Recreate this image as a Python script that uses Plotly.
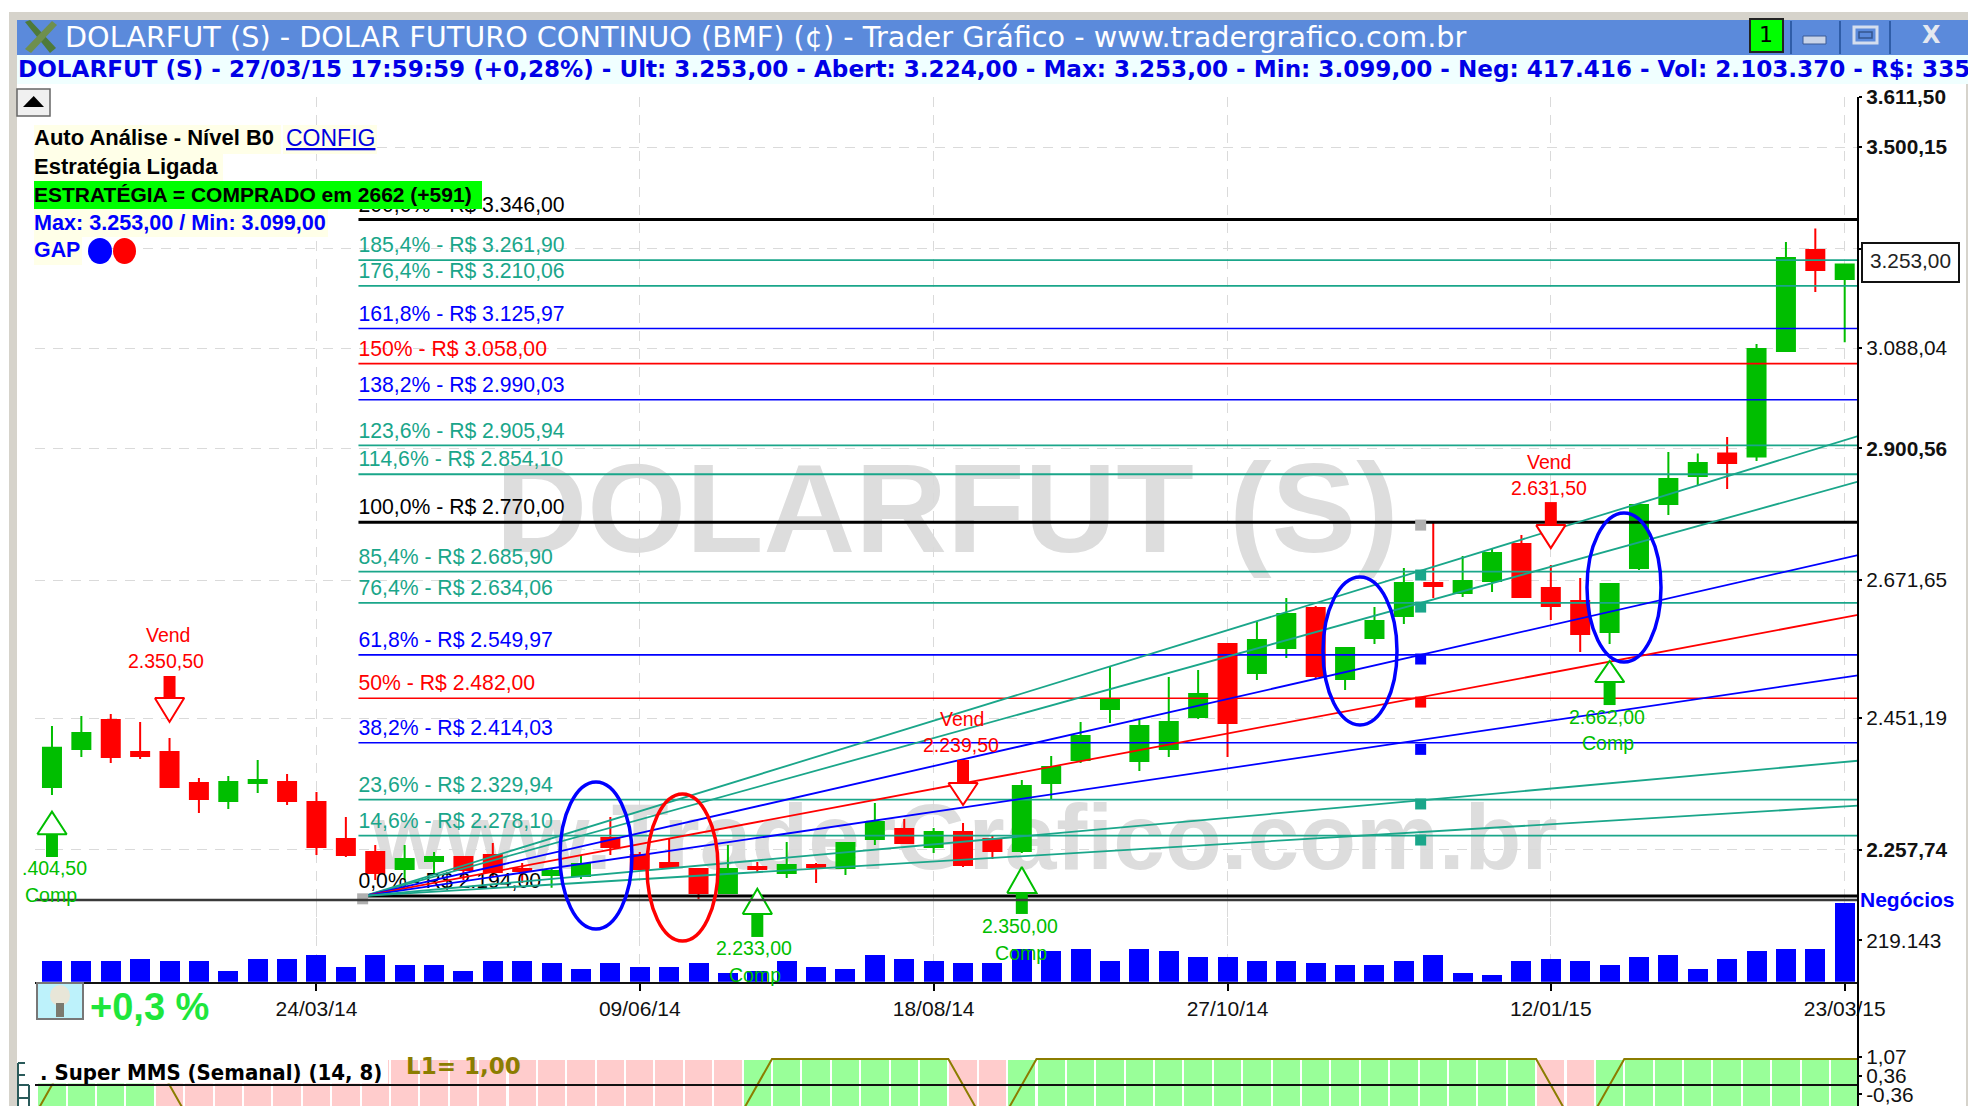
import math
import pandas as pd
import plotly.graph_objects as go

W, H = 1968, 1106

# ---------- data ----------
dates = pd.date_range("2014-01-20", periods=62, freq="7D")
opens = [2348.3,2404.7,2448.5,2400.1,2400.1,2354.1,2327.9,2354.1,2355.6,2326.4,2273.2,2254.9,2231.2,2242.3,2247.9,2250.7,2231.2,2222.9,2221.5,2274.6,2250.7,2239.5,2231.2,2198.0,2233.9,2225.6,2236.7,2232.5,2273.2,2287.4,2262.0,2283.2,2273.2,2256.3,2354.1,2388.1,2465.3,2386.6,2404.7,2453.1,2567.4,2521.3,2561.0,2625.6,2511.9,2577.0,2612.6,2666.9,2650.2,2670.2,2732.6,2658.7,2637.2,2586.7,2692.0,2801.6,2851.0,2891.3,2885.9,3082.3,3282.7,3224.0]
highs = [2439.4,2454.6,2457.7,2445.5,2421.1,2361.5,2364.5,2388.1,2367.4,2341.0,2304.7,2264.8,2264.8,2254.9,2249.3,2267.6,2239.5,2232.5,2250.7,2304.7,2254.9,2274.6,2232.5,2264.8,2240.9,2269.0,2239.5,2269.0,2325.0,2301.8,2288.9,2296.1,2279.0,2358.5,2394.1,2445.5,2530.8,2448.5,2515.0,2526.0,2567.4,2602.9,2642.1,2628.9,2561.0,2627.2,2692.0,2770.4,2712.2,2725.6,2748.0,2697.0,2675.3,2666.9,2803.4,2894.0,2891.3,2921.2,3095.7,3299.0,3326.9,3253.0]
lows = [2336.6,2392.6,2383.7,2389.6,2348.3,2310.4,2316.2,2339.5,2322.0,2250.7,2248.0,2215.9,2215.9,2225.6,2215.9,2220.0,2211.8,2205.0,2217.3,2250.7,2231.2,2233.9,2188.4,2198.0,2225.6,2218.7,2211.8,2222.9,2264.8,2267.6,2253.5,2233.9,2245.1,2253.5,2330.8,2383.7,2444.0,2371.9,2392.6,2450.0,2392.6,2510.3,2545.0,2511.9,2494.7,2567.4,2599.6,2642.1,2643.8,2651.9,2642.1,2606.1,2554.6,2567.4,2688.6,2782.5,2833.2,2827.9,2877.8,3082.3,3197.9,3099.0]
closes = [2406.6,2428.7,2392.6,2394.1,2348.3,2330.8,2355.6,2358.5,2327.9,2262.0,2250.7,2225.6,2245.1,2247.9,2229.8,2227.0,2228.4,2228.4,2238.1,2262.0,2231.2,2233.9,2198.0,2231.2,2231.2,2236.7,2233.9,2267.6,2297.5,2267.6,2283.2,2236.7,2256.3,2349.8,2377.7,2424.1,2480.7,2439.4,2445.5,2488.5,2444.0,2573.8,2616.0,2516.6,2561.0,2604.5,2666.9,2661.9,2670.2,2717.3,2643.8,2628.9,2583.4,2665.2,2799.9,2845.7,2874.2,2874.2,3086.0,3266.4,3242.0,3253.0]
volumes = [111000,111000,111000,121500,111000,111000,58100,121500,121500,142600,79200,142600,89800,89800,58100,111000,111000,100400,68700,100400,79200,79200,100400,47500,58100,111000,79200,68700,142600,121500,111000,100400,100400,174300,163800,174300,111000,174300,163800,132100,132100,111000,111000,100400,89800,89800,111000,142600,47500,37000,111000,121500,111000,89800,132100,142600,68700,121500,163800,174300,174300,417416]
mms_signal = [1]*4 + [-1]*20 + [1]*7 + [-1]*2 + [1]*18 + [-1]*2 + [1]*9

fib_values = [3346.00,3261.90,3210.06,3125.97,3058.00,2990.03,2905.94,2854.10,2770.00,2685.90,2634.06,2549.97,2482.00,2414.03,2329.94,2278.10,2194.00]
fib_labels = ["200,0% - R$ 3.346,00","185,4% - R$ 3.261,90","176,4% - R$ 3.210,06","161,8% - R$ 3.125,97","150% - R$ 3.058,00","138,2% - R$ 2.990,03","123,6% - R$ 2.905,94","114,6% - R$ 2.854,10","100,0% - R$ 2.770,00","85,4% - R$ 2.685,90","76,4% - R$ 2.634,06","61,8% - R$ 2.549,97","50% - R$ 2.482,00","38,2% - R$ 2.414,03","23,6% - R$ 2.329,94","14,6% - R$ 2.278,10","0,0% - R$ 2.194,00"]
TEAL, BLUE, RED, BLACK = "#1AA68A", "#0000FF", "#FF0000", "#000000"
fib_colors = [BLACK,TEAL,TEAL,BLUE,RED,BLUE,TEAL,TEAL,BLACK,TEAL,TEAL,BLUE,RED,BLUE,TEAL,TEAL,BLACK]

fan_end_values = [2923,2841,2713.8,2614.3,2517.6,2387,2321]
fan_colors = [TEAL,TEAL,BLUE,RED,BLUE,TEAL,TEAL]
fan_mark_values = [2765,2680.2,2627.2,2543.4,2476,2404,2323.5,2271.8,2190]
fan_mark_colors = ["#B0B0B0",TEAL,TEAL,BLUE,RED,BLUE,TEAL,TEAL,"#B0B0B0"]
fan_mark_dates = ["2014-12-12"]*8 + ["2014-04-04"]

buy_dates = ["2014-01-20","2014-07-07","2014-09-08","2015-01-26"]
buy_tip = [2312.4,2203.8,2233.9,2540.2]
buy_base = [2280.0,2169.4,2198.0,2507.1]
buy_tail = [2247.9,2138.5,2169.4,2471.4]
sell_dates = ["2014-02-17","2014-08-25","2015-01-12"]
sell_tip = [2445.5,2322.0,2725.6]
sell_base = [2482.3,2354.1,2765.0]
sell_tail = [2516.6,2388.1,2805.0]

price_ticks = [3611.50,3500.15,3285.00,3088.04,2900.56,2671.65,2451.19,2257.74]
price_tick_text = ["<b>3.611,50</b>","<b>3.500,15</b>","<b>3.285,00</b>","3.088,04","<b>2.900,56</b>","2.671,65","2.451,19","<b>2.257,74</b>"]
date_ticks = ["2014-03-24","2014-06-09","2014-08-18","2014-10-27","2015-01-12","2015-03-23"]
date_tick_text = ["24/03/14","09/06/14","18/08/14","27/10/14","12/01/15","23/03/15"]

GREEN_C, RED_C = "#00BE00", "#FF0000"
FONT = "Liberation Sans"

def px(x): return x / W
def py(y): return 1 - y / H

fig = go.Figure()

# ---------- candles ----------
fig.add_trace(go.Candlestick(x=dates, open=opens, high=highs, low=lows, close=closes,
    increasing=dict(line=dict(color=GREEN_C, width=2), fillcolor=GREEN_C),
    decreasing=dict(line=dict(color=RED_C, width=2), fillcolor=RED_C),
    xaxis="x", yaxis="y", showlegend=False, hoverinfo="skip"))

# ---------- fib levels ----------
fib_start, line_end = "2014-04-03", "2015-03-26 04:00"
for v, lab, c in zip(fib_values, fib_labels, fib_colors):
    fig.add_trace(go.Scatter(x=[fib_start, line_end], y=[v, v], mode="lines",
        line=dict(color=c, width=3 if c == BLACK else (1.6 if c != TEAL else 1.8)),
        xaxis="x", yaxis="y", showlegend=False, hoverinfo="skip"))
    # label sits a little higher than the line
    fig.add_trace(go.Scatter(x=[fib_start], y=[v*1.0016], mode="text",
        text=[lab], textposition="top right", cliponaxis=False,
        textfont=dict(family=FONT, size=21.2, color=c),
        xaxis="x", yaxis="y", showlegend=False, hoverinfo="skip"))

# ---------- fan ----------
for v, c in zip(fan_end_values, fan_colors):
    fig.add_trace(go.Scatter(x=["2014-04-04 12:00", line_end], y=[2194, v], mode="lines",
        line=dict(color=c, width=1.8), xaxis="x", yaxis="y", showlegend=False, hoverinfo="skip"))
fig.add_trace(go.Scatter(x=fan_mark_dates, y=fan_mark_values, mode="markers", cliponaxis=False,
    marker=dict(symbol="square", size=11, color=fan_mark_colors),
    xaxis="x", yaxis="y", showlegend=False, hoverinfo="skip"))

# ---------- buy / sell arrows ----------
half = pd.Timedelta(days=3.5)
def arrow(d, tip, base, tail, color):
    d = pd.Timestamp(d)
    fig.add_trace(go.Scatter(x=[d, d], y=[base, tail], mode="lines", cliponaxis=False,
        line=dict(color=color, width=12), xaxis="x", yaxis="y", showlegend=False, hoverinfo="skip"))
    fig.add_trace(go.Scatter(x=[d-half, d+half, d, d-half], y=[base, base, tip, base], mode="lines",
        fill="toself", fillcolor="white", cliponaxis=False,
        line=dict(color=color, width=2), xaxis="x", yaxis="y", showlegend=False, hoverinfo="skip"))
for d, a, b, t in zip(buy_dates, buy_tip, buy_base, buy_tail):
    arrow(d, a, b, t, GREEN_C)
for d, a, b, t in zip(sell_dates, sell_tip, sell_base, sell_tail):
    arrow(d, a, b, t, RED_C)

# ---------- volume ----------
week_ms = 7*86400000
fig.add_trace(go.Bar(x=dates, y=volumes, width=week_ms*0.68, marker=dict(color="#0000FF", line=dict(width=0)),
    xaxis="x2", yaxis="y2", showlegend=False, hoverinfo="skip"))

# ---------- Super MMS ----------
cell_colors = ["#99FF99" if s > 0 else "#FFCCCC" for s in mms_signal]
fig.add_trace(go.Bar(x=dates, y=[1.77]*62, base=-0.81, width=week_ms*0.93,
    marker=dict(color=cell_colors, line=dict(width=0)),
    xaxis="x3", yaxis="y3", showlegend=False, hoverinfo="skip"))
mms_x = pd.date_range("2014-01-13", periods=63, freq="7D") + half
fig.add_trace(go.Scatter(x=mms_x, y=[-1]+mms_signal, mode="lines", line=dict(color="#8B7D00", width=2),
    xaxis="x3", yaxis="y3", showlegend=False, hoverinfo="skip"))
fig.add_trace(go.Scatter(x=["2014-01-15 23:00", line_end], y=[0, 0], mode="lines", line=dict(color="#111111", width=2),
    xaxis="x3", yaxis="y3", showlegend=False, hoverinfo="skip"))

# ---------- shapes ----------
shapes, annots = [], []
def rect(x0, y0, x1, y1, fill=None, lc=None, lw=0, layer="above", kind="rect", label=None):
    d = dict(type=kind, xref="paper", yref="paper", x0=px(x0), x1=px(x1), y0=py(y1), y1=py(y0), layer=layer,
             line=dict(color=lc or "rgba(0,0,0,0)", width=lw))
    if fill: d["fillcolor"] = fill
    if label: d["label"] = label
    shapes.append(d)
def seg(x0, y0, x1, y1, c, w):
    shapes.append(dict(type="line", xref="paper", yref="paper", x0=px(x0), x1=px(x1), y0=py(y0), y1=py(y1),
                       layer="above", line=dict(color=c, width=w)))
def poly(points, fill, lc=None, lw=0):
    path = "M " + " L ".join(f"{px(a):.5f} {py(b):.5f}" for a, b in points) + " Z"
    shapes.append(dict(type="path", xref="paper", yref="paper", path=path, fillcolor=fill, layer="above",
                       line=dict(color=lc or "rgba(0,0,0,0)", width=lw)))
def text(t, x, y, size, color="#000000", anchor="left", family=FONT, bg=None):
    d = dict(text=t, xref="paper", yref="paper", x=px(x), y=py(y), xanchor=anchor, yanchor="middle",
             showarrow=False, font=dict(family=family, size=size, color=color), borderpad=0, borderwidth=0)
    if bg: d["bgcolor"] = bg
    annots.append(d)

# watermarks under the traces
rect(437, 426, 1457, 566, layer="below", label=dict(text="<b>DOLARFUT (S)</b>",
     font=dict(family=FONT, size=127, color="#DDDDDD"), textposition="middle center"))
rect(310, 778, 1620, 878, layer="below", label=dict(text="<b>www.TraderGrafico.com.br</b>",
     font=dict(family=FONT, size=93, color="#DDDDDD"), textposition="middle center"))

# window chrome
rect(9, 12, W, 22, "#D6D3CB")
rect(9, 12, 17, H, "#D6D3CB")
rect(1966, 22, W, H, "#D6D3CB")
rect(17, 20, W, 55, "#5B8ADB")
rect(17, 55, W, 84, "#F0FFFF")
poly([(25,22),(30,20),(56,48),(50,53)], "#4E7A3A")
poly([(52,21),(57,25),(31,53),(25,49)], "#6E8F4E")
rect(1750, 19, 1783, 52, "#00FF00", "#222222", 2)
for sx in (1791, 1840, 1890):
    seg(sx, 21, sx, 54, "#2F5DA8", 2)
rect(1803, 36, 1826, 44, "#C8D4E8", "#3A5A96", 1)
rect(1854, 27, 1877, 43, "rgba(0,0,0,0)", "#D5DEEE", 3)
rect(1859, 32, 1872, 38, "rgba(0,0,0,0)", "#34568E", 1.5)
# collapse button
rect(17, 89, 50, 116, "#F0F0F0", "#666666", 1.5)
poly([(33.7,96),(44,107),(23,107)], "#000000")
# separators / levels
seg(35, 900, 1858, 900, "#3A3A3A", 2.5)
seg(1858, 97, 1858, 1106, "#000000", 2)
# text panel backgrounds
rect(34, 125, 281, 154, "#FFFFE8")
rect(283, 125, 377, 154, "#FFFFE8")
rect(34, 154, 223, 181, "#FFFFE8")
rect(34, 181, 482, 209, "#00FF00")
rect(34, 209, 328, 237, "#FFFFE8")
rect(34, 237, 82, 265, "#FFFFE8")
rect(88, 238, 112, 264, "#0000FF", kind="circle")
rect(113, 238, 136, 264, "#FF0000", kind="circle")
# drawn ellipses
rect(560, 782, 632, 929, None, "#0000FF", 3.5, kind="circle")
rect(647, 794, 718, 941, None, "#FF0000", 3.5, kind="circle")
rect(1323, 577, 1397, 725, None, "#0000FF", 3.5, kind="circle")
rect(1587, 513, 1661, 662, None, "#0000FF", 3.5, kind="circle")
# last price box
rect(1862, 243, 1959, 282, "#FFFFFF", "#111111", 2)
# bulb icon
rect(37, 983, 83, 1019, "#BDF2FB", "#777777", 2)
rect(50, 985, 70, 1006, "#E8E6D8", kind="circle")
rect(56, 1003, 64, 1017, "#7A7A70")
# bottom panel header
rect(35, 1056, 388, 1083.5, "#FFFFFF")
for a in [(18,1063,18,1106),(18,1063,25,1063),(18,1075,25,1075),(18,1085,29,1085),(29,1085,29,1106),(18,1098,29,1098)]:
    seg(*a, "#2A5A5A", 2)

# texts
text("DOLARFUT (S) - DOLAR FUTURO CONTINUO (BMF) (¢) - Trader Gráfico - www.tradergrafico.com.br", 65, 37, 28.7, "#FFFFFF", family="DejaVu Sans")
text("<b>DOLARFUT (S) - 27/03/15 17:59:59 (+0,28%) - Ult: 3.253,00 - Abert: 3.224,00 - Max: 3.253,00 - Min: 3.099,00 - Neg: 417.416 - Vol: 2.103.370 - R$: 335.</b>", 18, 69, 23.1, "#0000E6", family="DejaVu Sans")
text("1", 1766, 35, 22, "#000000", "center", family="DejaVu Sans")
text("<b>X</b>", 1931, 35, 24, "#E4E8F0", "center", family="DejaVu Sans")
text("<b>Auto Análise - Nível B0</b>", 34, 138, 22, "#000000")
text("<u>CONFIG</u>", 286, 138, 23, "#0000E0")
text("<b>Estratégia Ligada</b>", 34, 166.5, 22, "#000000")
text("<b>ESTRATÉGIA = COMPRADO em 2662 (+591)</b>", 34, 194, 21, "#000000")
text("<b>Max: 3.253,00 / Min: 3.099,00</b>", 34, 222, 21.6, "#0000FF")
text("<b>GAP</b>", 34, 250, 21.4, "#0000FF")
text("3.253,00", 1910, 261, 20.8, "#222222", "center")
text("<b>Negócios</b>", 1860, 899, 21, "#0000FF")
text("<b>+0,3 %</b>", 90, 1007, 38, "#1EE63C")
text("<b>. Super MMS (Semanal) (14, 8)</b>", 40, 1072, 22, "#000000", family="DejaVu Sans Condensed")
text("<b>L1= 1,00</b>", 406, 1066, 23, "#8B7D00", family="DejaVu Sans")
for t, x, y, c in [("Vend",167.5,635,RED_C),("2.350,50",166,661,RED_C),
                   ("Vend",962,719,RED_C),("2.239,50",961,745,RED_C),
                   ("Vend",1549,462,RED_C),("2.631,50",1549,488,RED_C),
                   (".404,50",54,868,GREEN_C),("Comp",50.5,895,GREEN_C),
                   ("2.233,00",754,948,GREEN_C),("Comp",754.5,975,GREEN_C),
                   ("2.350,00",1020,926,GREEN_C),("Comp",1021,953,GREEN_C),
                   ("2.662,00",1607,717,GREEN_C),("Comp",1607.5,743,GREEN_C)]:
    text(t, x, y, 19.5, c, "center")

# ---------- layout ----------
x_range = ["2014-01-15 23:00", "2015-03-26 04:00"]
top_v, bot_v = 3611.5, 2127.8   # main panel runs down to pixel row 945 so the signal arrows are not clipped
axfont = dict(family=FONT, size=20.8, color="#111111")
datefont = dict(family=FONT, size=21, color="#111111")
grid = dict(showgrid=True, gridcolor="#DADADA", gridwidth=1, griddash="10px,8px")
fig.update_layout(
    width=W, height=H, autosize=False, margin=dict(l=0, r=0, t=0, b=0),
    paper_bgcolor="white", plot_bgcolor="rgba(0,0,0,0)", showlegend=False, bargap=0, boxgap=0.125, boxgroupgap=0.3,
    shapes=shapes, annotations=annots,
    xaxis=dict(domain=[px(35), px(1858)], range=x_range, type="date", anchor="y", rangeslider=dict(visible=False), automargin=False,
               tickvals=date_ticks, ticktext=[""]*6, ticks="", showline=False, zeroline=False, **grid),
    yaxis=dict(domain=[py(945), py(97)], type="log", range=[math.log10(bot_v), math.log10(top_v)], anchor="x", side="right", automargin=False,
               tickmode="array", tickvals=price_ticks, ticktext=price_tick_text, ticks="outside", ticklen=3, tickcolor="#000",
               tickwidth=2, tickfont=axfont, showline=False, zeroline=False, **grid),
    xaxis2=dict(domain=[px(35), px(1858)], range=x_range, type="date", anchor="y2", matches="x", automargin=False,
                tickmode="array", tickvals=date_ticks, ticktext=date_tick_text, ticks="outside", ticklen=7, tickcolor="#000",
                tickwidth=2, tickfont=datefont, showline=True, linecolor="#111111", linewidth=2, zeroline=False, **grid),
    yaxis2=dict(domain=[py(981.7), py(900)], range=[0, 431600], anchor="x2", side="right", tickmode="array", automargin=False,
                tickvals=[219143], ticktext=["219.143"], ticks="outside", ticklen=3, tickcolor="#000", tickwidth=2,
                tickfont=axfont, showline=False, showgrid=False, zeroline=False),
    xaxis3=dict(domain=[px(35), px(1858)], range=x_range, type="date", anchor="y3", matches="x", automargin=False,
                showticklabels=False, ticks="", showgrid=False, zeroline=False, showline=False),
    yaxis3=dict(domain=[0, py(1056)], range=[-0.808, 1.115], anchor="x3", side="right", tickmode="array", automargin=False,
                tickvals=[1.07, 0.36, -0.36], ticktext=["1,07", "0,36", "-0,36"], ticks="outside", ticklen=3,
                tickcolor="#000", tickwidth=2, tickfont=axfont, showline=False, showgrid=False, zeroline=False),
)

fig.write_html("out.html", config={"displayModeBar": False},
               post_script="document.body.style.margin='0';document.documentElement.style.overflow='hidden';")
